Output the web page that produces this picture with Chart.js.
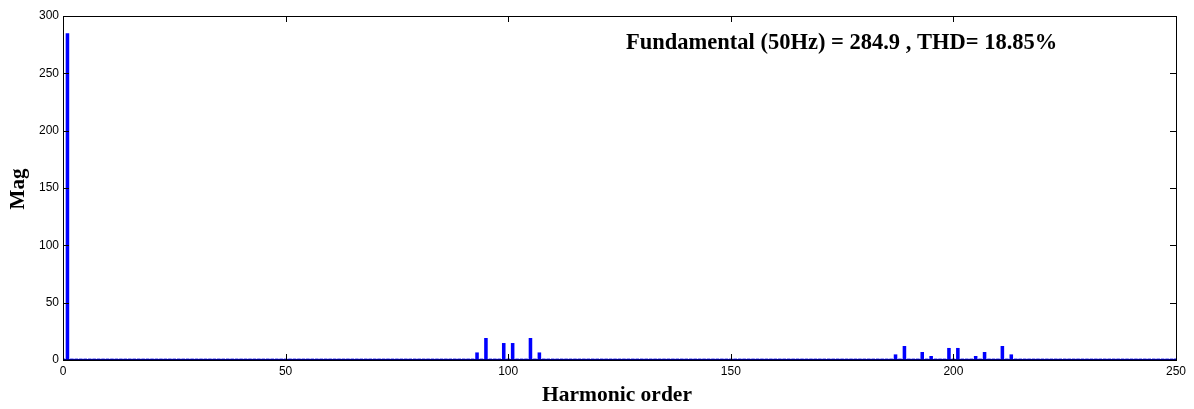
<!DOCTYPE html>
<html>
<head>
<meta charset="utf-8">
<script src="https://cdn.jsdelivr.net/npm/chart.js@4/dist/chart.umd.min.js"></script>
<style>
  html, body { margin: 0; padding: 0; background: #fff; }
  #wrap { width: 1194px; height: 409px; }
</style>
</head>
<body>
<div id="wrap"><canvas id="myChart" width="1194" height="409"></canvas></div>
<script>
// harmonic magnitudes, order 0..250 (10 per row)
const mags = [
  1.2, 284.9, 1.2, 1.2, 1.2, 1.2, 1.2, 1.2, 1.2, 1.2,       // 0
  1.2, 1.2, 1.2, 1.2, 1.2, 1.2, 1.2, 1.2, 1.2, 1.2,         // 10
  1.2, 1.2, 1.2, 1.2, 1.2, 1.2, 1.2, 1.2, 1.2, 1.2,         // 20
  1.2, 1.2, 1.2, 1.2, 1.2, 1.2, 1.2, 1.2, 1.2, 1.2,         // 30
  1.2, 1.2, 1.2, 1.2, 1.2, 1.2, 1.2, 1.2, 1.2, 1.2,         // 40
  1.2, 1.2, 1.2, 1.2, 1.2, 1.2, 1.2, 1.2, 1.2, 1.2,         // 50
  1.2, 1.2, 1.2, 1.2, 1.2, 1.2, 1.2, 1.2, 1.2, 1.2,         // 60
  1.2, 1.2, 1.2, 1.2, 1.2, 1.2, 1.2, 1.2, 1.2, 1.2,         // 70
  1.2, 1.2, 1.2, 1.2, 1.2, 1.2, 1.2, 1.2, 1.2, 1.2,         // 80
  1.2, 1.2, 1.2, 6.6, 1.2, 19.2, 1.2, 1.2, 1.2, 14.8,       // 90
  1.2, 14.8, 1.2, 1.2, 1.2, 19.2, 1.2, 6.6, 1.2, 1.2,       // 100
  1.2, 1.2, 1.2, 1.2, 1.2, 1.2, 1.2, 1.2, 1.2, 1.2,         // 110
  1.2, 1.2, 1.2, 1.2, 1.2, 1.2, 1.2, 1.2, 1.2, 1.2,         // 120
  1.2, 1.2, 1.2, 1.2, 1.2, 1.2, 1.2, 1.2, 1.2, 1.2,         // 130
  1.2, 1.2, 1.2, 1.2, 1.2, 1.2, 1.2, 1.2, 1.2, 1.2,         // 140
  1.2, 1.2, 1.2, 1.2, 1.2, 1.2, 1.2, 1.2, 1.2, 1.2,         // 150
  1.2, 1.2, 1.2, 1.2, 1.2, 1.2, 1.2, 1.2, 1.2, 1.2,         // 160
  1.2, 1.2, 1.2, 1.2, 1.2, 1.2, 1.2, 1.2, 1.2, 1.2,         // 170
  1.2, 1.2, 1.2, 1.2, 1.2, 1.2, 1.2, 4.9, 1.2, 12.2,        // 180
  1.2, 1.2, 1.2, 7.0, 1.2, 3.5, 1.2, 1.2, 1.2, 10.5,        // 190
  1.2, 10.5, 1.2, 1.2, 1.2, 3.5, 1.2, 7.0, 1.2, 1.2,        // 200
  1.2, 12.2, 1.2, 4.9, 1.2, 1.2, 1.2, 1.2, 1.2, 1.2,        // 210
  1.2, 1.2, 1.2, 1.2, 1.2, 1.2, 1.2, 1.2, 1.2, 1.2,         // 220
  1.2, 1.2, 1.2, 1.2, 1.2, 1.2, 1.2, 1.2, 1.2, 1.2,         // 230
  1.2, 1.2, 1.2, 1.2, 1.2, 1.2, 1.2, 1.2, 1.2, 1.2,         // 240
  1.2                                                       // 250
];
const xTicks = [0, 50, 100, 150, 200, 250];
const yTicks = [0, 50, 100, 150, 200, 250, 300];
const titleText = "Fundamental (50Hz) = 284.9 , THD= 18.85%";
const xTitle = "Harmonic order";
const yTitle = "Mag";

const serif = "'Liberation Serif', 'Times New Roman', serif";
const tickFont = "12px 'Liberation Sans', Arial, sans-serif";

// matlab-ish frame, inward ticks, labels
const matlabAxes = {
    id: 'matlabAxes',
    afterDatasetsDraw(chart) {
        const ctx = chart.ctx;
        const a = chart.chartArea;
        const xs = chart.scales.x, ys = chart.scales.y;
        ctx.save();
        // baseline
        const y0 = ys.getPixelForValue(0);
        ctx.strokeStyle = '#000080';
        ctx.lineWidth = 2;
        ctx.beginPath();
        ctx.moveTo(a.left, y0);
        ctx.lineTo(a.right, y0);
        ctx.stroke();
        // frame
        ctx.strokeStyle = '#000';
        ctx.lineWidth = 1;
        ctx.strokeRect(Math.round(a.left) + 0.5, Math.round(a.top) + 0.5,
            Math.round(a.right - a.left), Math.round(a.bottom - a.top));
        // ticks
        ctx.beginPath();
        xTicks.forEach(v => {
            const px = Math.round(xs.getPixelForValue(v)) + 0.5;
            ctx.moveTo(px, a.bottom); ctx.lineTo(px, a.bottom - 6);
            ctx.moveTo(px, a.top); ctx.lineTo(px, a.top + 6);
        });
        yTicks.forEach(v => {
            const py = Math.round(ys.getPixelForValue(v)) + 0.5;
            ctx.moveTo(a.left, py); ctx.lineTo(a.left + 6, py);
            ctx.moveTo(a.right, py); ctx.lineTo(a.right - 6, py);
        });
        ctx.stroke();
        // tick labels
        ctx.fillStyle = '#000';
        ctx.font = tickFont;
        ctx.textAlign = 'center';
        ctx.textBaseline = 'top';
        xTicks.forEach(v => ctx.fillText(String(v), xs.getPixelForValue(v), a.bottom + 6));
        ctx.textAlign = 'right';
        ctx.textBaseline = 'middle';
        yTicks.forEach(v => ctx.fillText(String(v), a.left - 4, ys.getPixelForValue(v)));
        // titles
        ctx.textAlign = 'center';
        ctx.textBaseline = 'alphabetic';
        ctx.font = "bold 21.5px " + serif;
        ctx.fillText(xTitle, 617, 401);
        ctx.save();
        ctx.translate(24, 189);
        ctx.rotate(-Math.PI / 2);
        ctx.font = "bold 21px " + serif;
        ctx.fillText(yTitle, 0, 0);
        ctx.restore();
        ctx.textAlign = 'left';
        ctx.font = "bold 22.5px " + serif;
        ctx.fillText(titleText, 626, 49);
        ctx.restore();
    }
};

const ctx = document.getElementById('myChart');
const myChart = new Chart(ctx, {
    type: 'bar',
    data: {
        datasets: [{
            data: mags.map((m, i) => ({x: i, y: m})),
            backgroundColor: '#0000ff',
            borderWidth: 0,
            barPercentage: 0.8,
            categoryPercentage: 1.0
        }]
    },
    options: {
        responsive: false,
        animation: false,
        events: [],
        layout: { padding: { top: 16, right: 18, left: 0, bottom: 0 } },
        scales: {
            x: {
                type: 'linear',
                min: 0,
                max: 250,
                offset: false,
                grid: { display: false },
                border: { display: false },
                ticks: { display: false },
                afterFit: s => { s.height = 49; }
            },
            y: {
                min: 0,
                max: 300,
                grid: { display: false },
                border: { display: false },
                ticks: { display: false },
                afterFit: s => { s.width = 63; }
            }
        },
        plugins: {
            legend: { display: false },
            tooltip: { enabled: false }
        }
    },
    plugins: [matlabAxes]
});
</script>
</body>
</html>
